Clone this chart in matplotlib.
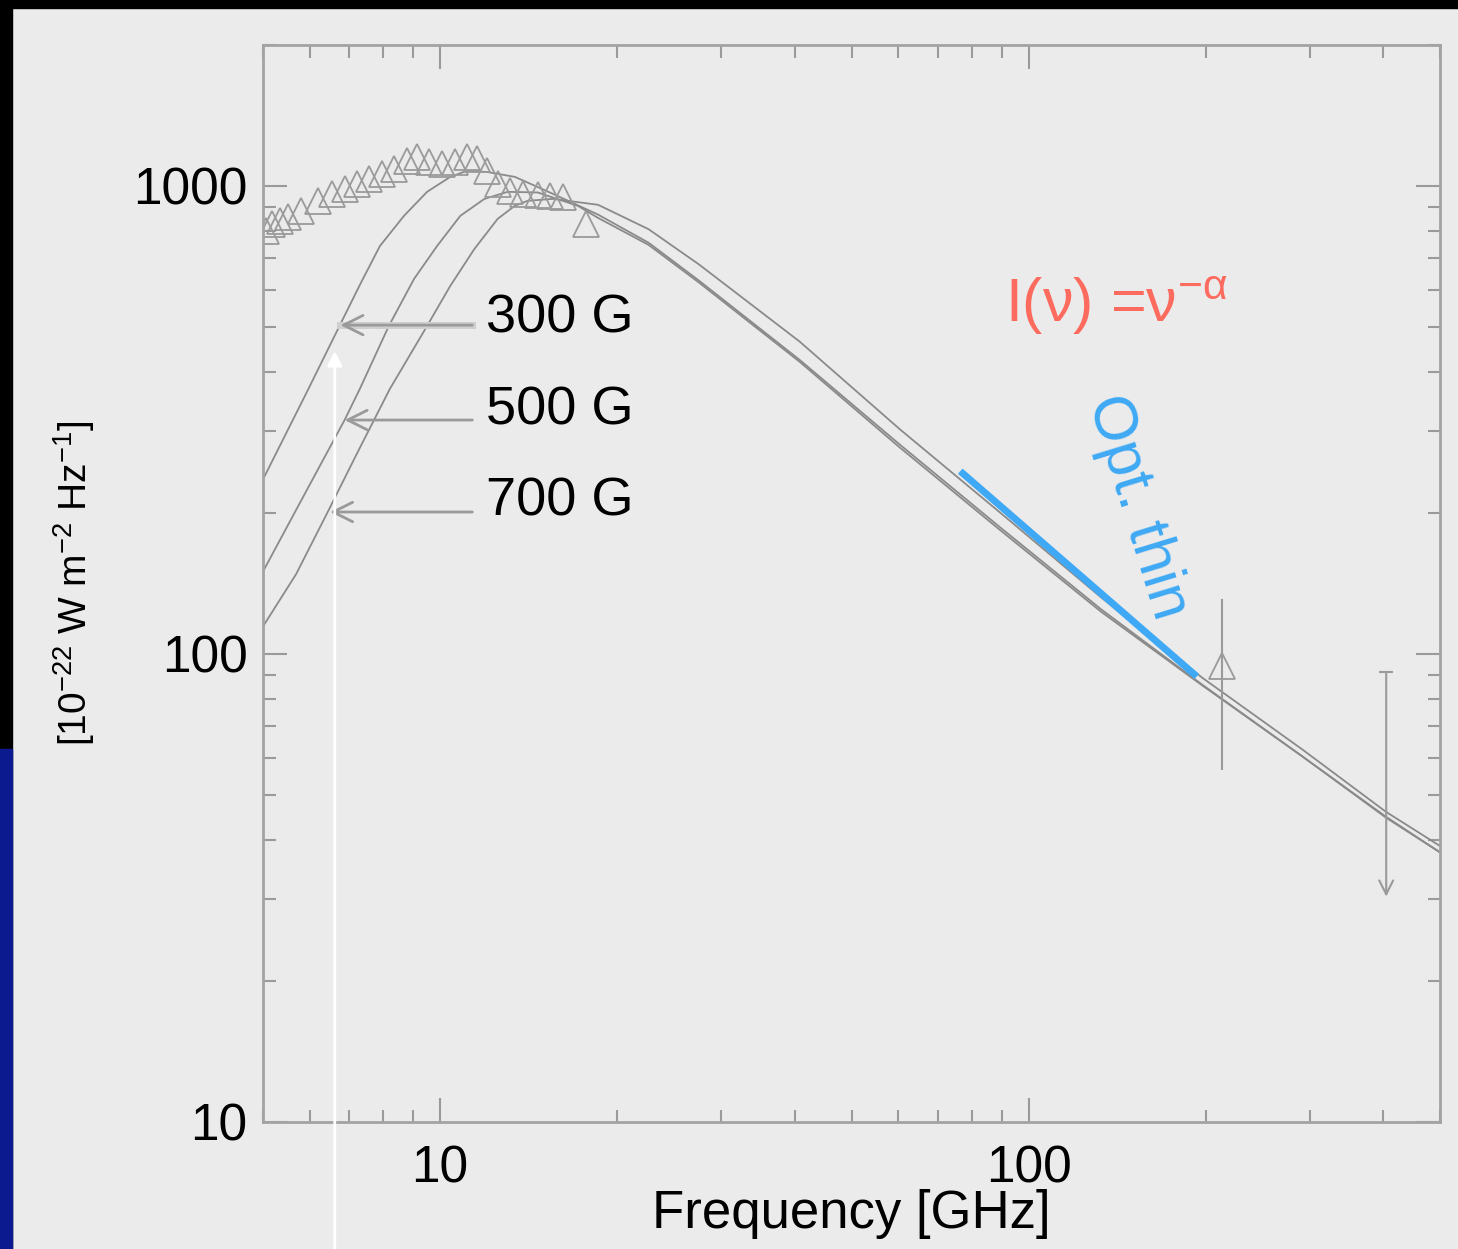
import matplotlib.pyplot as plt
from matplotlib.patches import Rectangle
from matplotlib.ticker import FuncFormatter, NullFormatter

plt.rcParams['font.family'] = ['Liberation Sans', 'DejaVu Sans']
plt.rcParams['mathtext.default'] = 'regular'

# model spectra (GHz, 1e-22 W m^-2 Hz^-1) for three field strengths
f_300 = [5.00, 5.97, 6.77, 7.33, 7.90, 8.68, 9.50, 10.4, 11.1, 12.0, 13.4, 15.5,
         18.55, 22.6, 27.5, 40.8, 60.4, 89.6, 132.8, 196.8, 291.7, 404.5, 506]
s_300 = [236, 368, 507, 620, 744, 863, 971, 1045, 1077, 1071, 1045, 963,
         868, 756, 628, 425, 280, 186, 124.5, 86.1, 60.4, 44.7, 37.3]

f_500 = [5.00, 5.69, 6.88, 7.30, 8.18, 9.03, 9.88, 10.82, 11.89, 13.02, 14.65, 17.15,
         18.55, 22.6, 27.5, 40.8, 60.4, 89.6, 132.8, 196.8, 291.7, 404.5, 506]
s_500 = [150, 203, 316, 368, 502, 633, 744, 863, 938, 971, 968, 906,
         854, 748, 622, 421, 276, 183.5, 123, 85.8, 60.4, 44.9, 37.3]

f_700 = [5.00, 5.69, 6.44, 7.21, 8.21, 9.50, 10.4, 11.43, 12.52, 13.38, 14.08, 15.54,
         18.55, 22.6, 27.5, 40.8, 60.4, 89.6, 132.8, 196.8, 291.7, 404.5, 506]
s_700 = [114.5, 148, 201, 267, 368, 502, 611, 733, 850, 906, 929, 938,
         911, 808, 680, 465, 302, 200, 132, 89.1, 62.5, 46.0, 38.5]

# observed flux densities
f_obs = [5.06, 5.18, 5.35, 5.52, 5.81, 6.21, 6.54, 6.88, 7.21, 7.56, 7.96, 8.35, 8.78, 9.13,
         9.58, 10.08, 10.61, 11.12, 11.57, 12.03, 12.52, 13.12, 13.81, 14.65, 15.36, 16.16, 17.69]
s_obs = [801, 829, 842, 858, 884, 929, 962, 985, 1010, 1035, 1061, 1087, 1131, 1153,
         1125, 1115, 1125, 1153, 1142, 1077, 1010, 976, 962, 957, 952, 947, 829]

# 212 GHz point with error, 405 GHz upper limit
f_err, s_err, s_err_lo, s_err_hi = 213, 94.3, 56.6, 130.8
f_lim, s_lim_top, s_lim_bot = 405, 91.3, 30.3

# field strength labels and where their arrows point
b_labels = ['300 G', '500 G', '700 G']
b_arrow_f = [6.77, 6.88, 6.50]
b_arrow_s = [504, 316, 201]
b_text_s = [522, 331, 212]

# optically thin fit segment
thin_f = [76.5, 193.0]
thin_s = [245.7, 89.5]

grey = '#9a9a9a'
blue = '#3fa9f5'

fig = plt.figure(figsize=(14.58, 12.49), dpi=100, facecolor='#ebebeb')
ax = fig.add_axes([0.1804, 0.1017, 0.8073, 0.8623])
ax.set_facecolor('#ebebeb')

# dark slide frame
fig.add_artist(Rectangle((0, 0), 12 / 1458, 1, transform=fig.transFigure, color='black'))
fig.add_artist(Rectangle((0, 1 - 8 / 1249), 1, 8 / 1249, transform=fig.transFigure, color='black'))
fig.add_artist(Rectangle((0, 0), 12 / 1458, 0.40, transform=fig.transFigure, color='#0c1a8f'))

ax.set_xscale('log')
ax.set_yscale('log')
ax.set_xlim(5, 500)
ax.set_ylim(10, 2000)

for f, s in [(f_300, s_300), (f_500, s_500), (f_700, s_700)]:
    ax.plot(f, s, color='#8a8a8a', lw=1.3)

ax.plot(f_obs, s_obs, ls='none', marker='^', ms=19, mfc='none', mec=grey, mew=1.3)
ax.errorbar([f_err], [s_err], yerr=[[s_err - s_err_lo], [s_err_hi - s_err]], fmt='^',
            ms=19, mfc='none', mec=grey, mew=1.3, ecolor=grey, elinewidth=1.5, capsize=0)
ax.plot([f_lim], [s_lim_top], marker='_', ms=10, color=grey, mew=1.5)
ax.annotate('', xy=(f_lim, s_lim_bot), xytext=(f_lim, s_lim_top),
            arrowprops=dict(arrowstyle='->', color=grey, lw=1.5, shrinkA=0, shrinkB=0,
                            mutation_scale=25))

for i, lab in enumerate(b_labels):
    if i == 0:
        ax.plot([11.34, b_arrow_f[i]], [b_arrow_s[i]] * 2, color='#cfcfcf', lw=5)
    ax.annotate('', xy=(b_arrow_f[i], b_arrow_s[i]), xytext=(11.34, b_arrow_s[i]),
                arrowprops=dict(arrowstyle='->', color=grey, lw=2, shrinkA=0, shrinkB=0,
                                mutation_scale=35))
    ax.text(11.94, b_text_s[i], lab, fontsize=39, ha='left', va='center')

ax.plot(thin_f, thin_s, color=blue, lw=5, solid_capstyle='butt')
ax.text(153, 206, 'Opt. thin', color=blue, fontsize=44, rotation=-73,
        ha='center', va='center', rotation_mode='anchor')
ax.text(91.3, 512, 'I(ν) =ν$^{-α}$', color='#fd6a5e', fontsize=44, ha='left', va='baseline')

# white pointer from below the frame
ax.annotate('', xy=(6.62, 444), xytext=(6.62, 0), textcoords=('data', 'figure fraction'),
            arrowprops=dict(arrowstyle='-|>', color='white', lw=2, mutation_scale=22,
                            shrinkA=0, shrinkB=0), annotation_clip=False, zorder=5)

fmt = FuncFormatter(lambda v, p: f'{v:g}')
ax.xaxis.set_major_formatter(fmt)
ax.yaxis.set_major_formatter(fmt)
ax.xaxis.set_minor_formatter(NullFormatter())
ax.yaxis.set_minor_formatter(NullFormatter())
ax.tick_params(which='both', direction='in', top=True, right=True, colors=grey,
               labelcolor='black', width=1.5, labelsize=37)
ax.tick_params(which='major', length=17)
ax.tick_params(which='minor', length=9)
ax.tick_params(axis='x', pad=16)
ax.tick_params(axis='y', pad=11)
for sp in ax.spines.values():
    sp.set_color('#a3a3a3')
    sp.set_linewidth(2)

ax.set_xlabel('Frequency [GHz]', fontsize=38, labelpad=-3)
ax.set_ylabel('[10$^{-22}$ W m$^{-2}$ Hz$^{-1}$]', fontsize=28, labelpad=26)

fig.savefig('out.png', dpi=100, facecolor=fig.get_facecolor())
